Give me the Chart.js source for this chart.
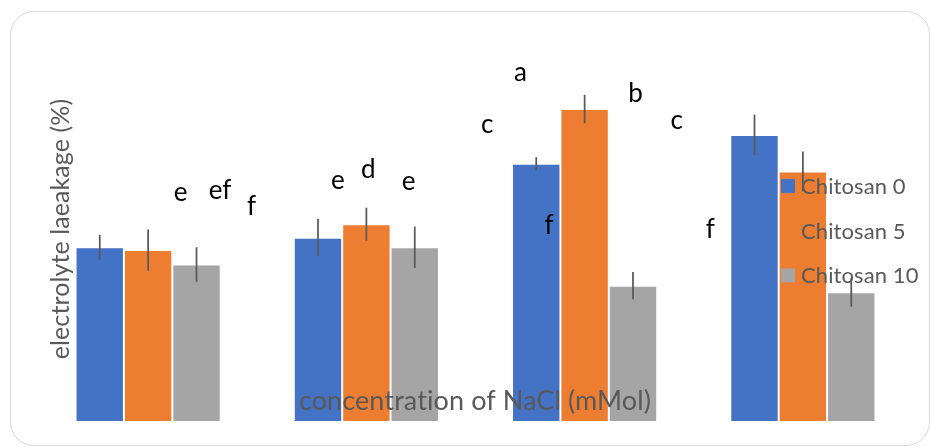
<!DOCTYPE html>
<html>
<head>
<meta charset="utf-8">
<script src="https://cdn.jsdelivr.net/npm/chart.js@4.4.1/dist/chart.umd.min.js"></script>
<style>
  body { margin: 0; background: #ffffff; }
  #frame {
    position: absolute;
    left: 10px;
    top: 11px;
    width: 918px;
    height: 433px;
    border: 1px solid #d9d9d9;
    border-radius: 24px;
  }
  #chart { position: absolute; left: 0; top: 0; }
</style>
</head>
<body>
<div id="frame"></div>
<canvas id="chart" width="930" height="447"></canvas>
<script>
const categories = ["0", "50", "100", "150"];
const seriesNames = ["Chitosan 0", "Chitosan 5", "Chitosan 10"];

const chitosan0 = [18.1, 19.1, 26.8, 29.8];
const chitosan5 = [17.8, 20.5, 32.5, 26.0];
const chitosan10 = [16.3, 18.1, 14.1, 13.4];

const err0 = [1.29, 1.95, 0.68, 2.12];
const err5 = [2.16, 1.72, 1.48, 2.08];
const err10 = [1.8, 2.16, 1.42, 1.49];

const letters0 = ["e", "e", "c", "b"];
const letters5 = ["ef", "d", "a", "c"];
const letters10 = ["f", "e", "f", "f"];

const yMax = 40;

// where each letter sits relative to the top of its bar (px)
const letterOffsets = [
  [[81, -46], [20, -49], [-49, -31], [-119, -33]],
  [[72, -51], [2, -46], [-64, -28], [-126, -42]],
  [[55, -50], [-6, -57], [-84, -52], [-141, -54]]
];

const FONT = "Lato, 'Open Sans', sans-serif";
const TEXT_GRAY = "#595959";

const errorBars = {
  id: "errorBars",
  afterDatasetsDraw(chart) {
    const ctx = chart.ctx;
    const y = chart.scales.y;
    ctx.save();
    ctx.strokeStyle = "#595959";
    ctx.lineWidth = 1.75;
    chart.data.datasets.forEach((ds, i) => {
      chart.getDatasetMeta(i).data.forEach((bar, j) => {
        const v = ds.data[j];
        const e = ds.errors[j];
        ctx.beginPath();
        ctx.moveTo(bar.x, y.getPixelForValue(v + e));
        ctx.lineTo(bar.x, y.getPixelForValue(v - e));
        ctx.stroke();
      });
    });
    ctx.restore();
  }
};

const letterLabels = {
  id: "letterLabels",
  afterDatasetsDraw(chart) {
    const ctx = chart.ctx;
    ctx.save();
    ctx.fillStyle = "#000000";
    ctx.font = "26px " + FONT;
    ctx.letterSpacing = "0.1px";
    ctx.textAlign = "center";
    ctx.textBaseline = "alphabetic";
    chart.data.datasets.forEach((ds, i) => {
      chart.getDatasetMeta(i).data.forEach((bar, j) => {
        const off = letterOffsets[i][j];
        ctx.fillText(ds.letters[j], bar.x + off[0], bar.y + off[1]);
      });
    });
    ctx.restore();
  }
};

const overlayText = {
  id: "overlayText",
  afterDraw(chart) {
    const ctx = chart.ctx;
    ctx.save();
    ctx.fillStyle = TEXT_GRAY;
    ctx.letterSpacing = "0.1px";

    // y axis title
    ctx.font = "25px " + FONT;
    ctx.textAlign = "center";
    ctx.textBaseline = "middle";
    ctx.translate(61, 229);
    ctx.rotate(-Math.PI / 2);
    ctx.fillText("electrolyte laeakage (%)", 0, 0);
    ctx.setTransform(1, 0, 0, 1, 0, 0);

    // x axis title, drawn over the bars like the original
    ctx.font = "27px " + FONT;
    ctx.textBaseline = "alphabetic";
    ctx.fillText("concentration of NaCl (mMol)", 475, 410);

    // legend
    ctx.font = "22px " + FONT;
    ctx.textAlign = "left";
    ctx.textBaseline = "middle";
    chart.data.datasets.forEach((ds, i) => {
      const cy = 186 + i * 44.7;
      ctx.fillStyle = ds.backgroundColor;
      ctx.fillRect(781, cy - 7, 14, 14);
      ctx.fillStyle = TEXT_GRAY;
      ctx.fillText(ds.label, 801, cy + 1);
    });
    ctx.restore();
  }
};

function makeSet(label, data, errors, letters, color) {
  return {
    label: label,
    data: data,
    errors: errors,
    letters: letters,
    backgroundColor: color,
    borderColor: "rgba(255,255,255,0.4)",
    borderWidth: 1,
    barPercentage: 1,
    categoryPercentage: 0.665
  };
}

new Chart(document.getElementById("chart"), {
  type: "bar",
  data: {
    labels: categories,
    datasets: [
      makeSet(seriesNames[0], chitosan0, err0, letters0, "#4472C4"),
      makeSet(seriesNames[1], chitosan5, err5, letters5, "#ED7D31"),
      makeSet(seriesNames[2], chitosan10, err10, letters10, "#A5A5A5")
    ]
  },
  options: {
    responsive: false,
    animation: false,
    devicePixelRatio: 1,
    layout: {
      padding: { left: 39, right: 18, top: 37, bottom: 26 }
    },
    plugins: {
      legend: { display: false },
      tooltip: { enabled: false }
    },
    scales: {
      x: { display: false },
      y: { display: false, min: 0, max: yMax }
    }
  },
  plugins: [errorBars, letterLabels, overlayText]
});
</script>
</body>
</html>
